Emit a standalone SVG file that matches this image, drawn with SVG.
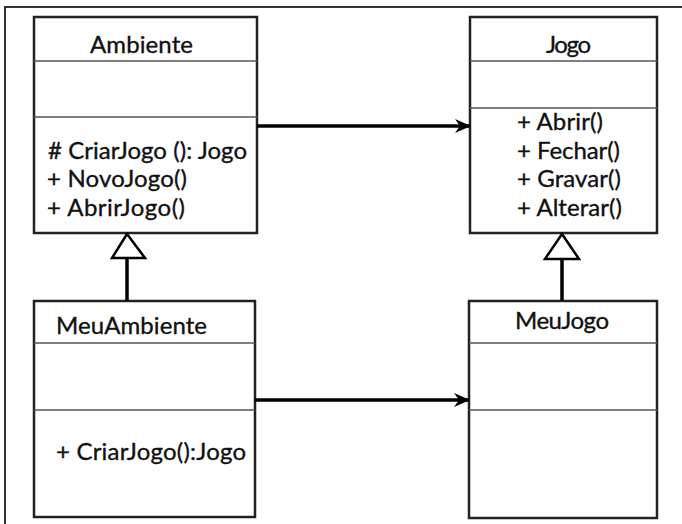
<svg xmlns="http://www.w3.org/2000/svg" width="682" height="524" viewBox="0 0 682 524">
<style>
.box{fill:#fff;stroke:#222;stroke-width:2.5}
.sep{stroke:#555;stroke-width:1.3}
.t{font-family:"Lato","Open Sans","Liberation Sans",sans-serif;font-size:24px;fill:#111;stroke:#111;stroke-width:0.35}
.c{stroke:#000;stroke-width:3.5;fill:none}
.g{fill:#fff;stroke:#000;stroke-width:2.5}
</style>
<defs>
<marker id="ah" viewBox="0 0 16 14" refX="15" refY="7" markerWidth="16" markerHeight="14" markerUnits="userSpaceOnUse" orient="auto">
<path d="M0,0 L16,7 L0,14 L5,7 Z" fill="#000"/>
</marker>
</defs>
<rect x="0" y="0" width="682" height="524" fill="#fff"/>
<rect x="5" y="7" width="690" height="530" fill="none" stroke="#333" stroke-width="2"/>
<g id="Ambiente">
<rect class="box" x="34" y="17" width="223" height="216"/>
<line class="sep" x1="34" y1="61" x2="257" y2="61"/>
<line class="sep" x1="34" y1="117" x2="257" y2="117"/>
<text class="t" x="90" y="53" textLength="103">Ambiente</text>
<text class="t" x="48" y="159" textLength="199"># CriarJogo (): Jogo</text>
<text class="t" x="47" y="187" textLength="140">+ NovoJogo()</text>
<text class="t" x="47" y="216" textLength="138">+ AbrirJogo()</text>
</g>
<g id="Jogo">
<rect class="box" x="470" y="17" width="187" height="216"/>
<line class="sep" x1="470" y1="61" x2="657" y2="61"/>
<line class="sep" x1="470" y1="108" x2="657" y2="108"/>
<text class="t" x="546" y="53" textLength="45">Jogo</text>
<text class="t" x="517" y="130" textLength="86">+ Abrir()</text>
<text class="t" x="517" y="159" textLength="103">+ Fechar()</text>
<text class="t" x="517" y="187" textLength="104">+ Gravar()</text>
<text class="t" x="517" y="216" textLength="105">+ Alterar()</text>
</g>
<g id="MeuAmbiente">
<rect class="box" x="34" y="301" width="221" height="216"/>
<line class="sep" x1="34" y1="343" x2="255" y2="343"/>
<line class="sep" x1="34" y1="410" x2="255" y2="410"/>
<text class="t" x="56" y="334" textLength="151">MeuAmbiente</text>
<text class="t" x="56" y="460" textLength="190">+ CriarJogo():Jogo</text>
</g>
<g id="MeuJogo">
<rect class="box" x="469" y="301" width="188" height="217"/>
<line class="sep" x1="469" y1="343" x2="657" y2="343"/>
<line class="sep" x1="469" y1="410" x2="657" y2="410"/>
<text class="t" x="515" y="329" textLength="94">MeuJogo</text>
</g>
<g id="connectors">
<line class="c" x1="257" y1="126" x2="470" y2="126" marker-end="url(#ah)"/>
<line class="c" x1="255" y1="400" x2="469" y2="400" marker-end="url(#ah)"/>
<line class="c" x1="127" y1="301" x2="127" y2="258"/>
<polygon class="g" points="127,234 112,258 145,258"/>
<line class="c" x1="562" y1="301" x2="562" y2="259"/>
<polygon class="g" points="562,234 545,259 579,259"/>
</g>
</svg>
